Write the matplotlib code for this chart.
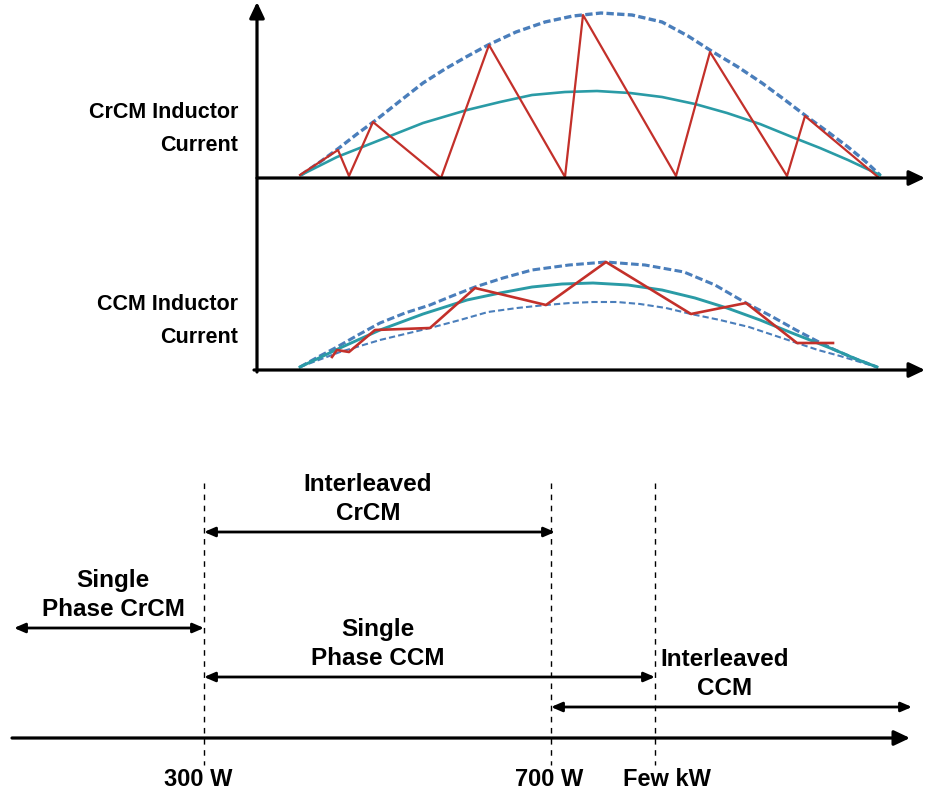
import matplotlib.pyplot as plt

# ---- diagram data (drawing units = picture pixels, y grows downward) ----
# top panel: CrCM inductor current
crcm_env_x = [301, 320, 339, 357, 376, 400, 423, 445, 466, 488, 516, 545, 573, 601,
              632, 662, 688, 713, 738, 762, 785, 806, 828, 848, 865, 880]
crcm_env_y = [175, 162, 148, 134, 120, 101, 83, 69, 57, 45, 32, 22, 16, 13,
              15, 22, 36, 52, 67, 83, 100, 116, 132, 147, 161, 175]
crcm_avg_x = [301, 337, 380, 423, 467, 500, 532, 565, 597, 630, 662, 695, 727, 760,
              792, 820, 848, 865, 880]
crcm_avg_y = [175, 157, 140, 123, 110, 102, 95, 92, 91, 93, 97, 104, 113, 124,
              137, 148, 160, 168, 175]
crcm_ripple_x = [300, 338, 349, 373, 441, 489, 565, 583, 676, 710, 787, 805, 878]
crcm_ripple_y = [175, 150, 176, 122, 178, 45, 177, 15, 176, 52, 176, 116, 177]

# middle panel: CCM inductor current
ccm_hi_x = [300, 318, 337, 358, 380, 405, 430, 452, 475, 503, 532, 569, 606, 645,
            684, 715, 746, 771, 796, 815, 835, 856, 877]
ccm_hi_y = [367, 357, 347, 335, 323, 313, 305, 296, 287, 278, 270, 265, 262, 265,
            272, 285, 303, 316, 330, 340, 350, 359, 367]
ccm_avg_x = [300, 340, 380, 423, 467, 500, 532, 562, 593, 628, 662, 695, 727, 760,
             792, 815, 835, 856, 877]
ccm_avg_y = [367, 348, 330, 314, 300, 293, 287, 284, 283, 285, 290, 298, 308, 320,
             333, 342, 350, 359, 367]
ccm_lo_x = [300, 340, 380, 405, 430, 460, 488, 517, 546, 570, 593, 617, 640, 666,
            691, 720, 749, 773, 797, 818, 840, 860, 877]
ccm_lo_y = [367, 352, 340, 334, 328, 320, 312, 308, 305, 303, 302, 302, 304, 308,
            314, 320, 327, 335, 343, 350, 356, 362, 367]
ccm_ripple_x = [332, 337, 349, 375, 430, 475, 546, 606, 691, 746, 797, 833]
ccm_ripple_y = [357, 350, 352, 330, 328, 288, 305, 262, 314, 303, 343, 343]

# bottom: power ranges
power_marks = [204, 551, 655]
power_labels = ['300 W', '700 W', 'Few kW']
power_label_x = [198, 549, 667]
range_start = [204, 14, 204, 551]
range_end = [555, 204, 655, 912]
range_level = [532, 628, 677, 707]
range_text = ['Interleaved\nCrCM', 'Single\nPhase CrCM', 'Single\nPhase CCM', 'Interleaved\nCCM']
range_text_x = [368, 113, 378, 725]

BLUE = '#4A7EBB'
TEAL = '#2A9BA6'
RED = '#C3302A'

plt.rcParams['font.family'] = ['Liberation Sans', 'DejaVu Sans']

fig = plt.figure(figsize=(9.27, 7.95), dpi=100)
ax = fig.add_axes([0, 0, 1, 1])
ax.set_xlim(0, 927)
ax.set_ylim(795, 0)
ax.axis('off')


def axis_arrow(x0, y0, x1, y1, lw=2.3):
    ax.annotate('', xy=(x1, y1), xytext=(x0, y0),
                arrowprops=dict(arrowstyle='-|>,head_length=0.95,head_width=0.45',
                                color='black', lw=lw, shrinkA=0, shrinkB=0))


# axes of the two waveform panels
axis_arrow(257, 372, 257, 2)
axis_arrow(257, 178, 925, 178)
axis_arrow(254, 370, 925, 370)

ax.plot(crcm_env_x, crcm_env_y, color=BLUE, lw=2.4, ls=(0, (2.2, 1.0)))
ax.plot(crcm_avg_x, crcm_avg_y, color=TEAL, lw=1.9)
ax.plot(crcm_ripple_x, crcm_ripple_y, color=RED, lw=1.6)

ax.plot(ccm_hi_x, ccm_hi_y, color=BLUE, lw=2.2, ls=(0, (2.5, 1.1)))
ax.plot(ccm_lo_x, ccm_lo_y, color=BLUE, lw=1.5, ls=(0, (3, 1.5)))
ax.plot(ccm_avg_x, ccm_avg_y, color=TEAL, lw=2.1)
ax.plot(ccm_ripple_x, ccm_ripple_y, color=RED, lw=1.9)

ax.text(238, 129, 'CrCM Inductor\nCurrent', ha='right', va='center',
        fontsize=15.5, fontweight='bold', linespacing=1.7)
ax.text(238, 321, 'CCM Inductor\nCurrent', ha='right', va='center',
        fontsize=15.5, fontweight='bold', linespacing=1.7)

# power axis
axis_arrow(12, 738, 910, 738)
for x in power_marks:
    ax.plot([x, x], [483, 765], color='black', lw=1, ls=(0, (4, 4)))
for x, lab in zip(power_label_x, power_labels):
    ax.text(x, 779, lab, ha='center', va='center', fontsize=17, fontweight='bold')

for x0, x1, y, txt, tx in zip(range_start, range_end, range_level, range_text, range_text_x):
    ax.annotate('', xy=(x1, y), xytext=(x0, y),
                arrowprops=dict(arrowstyle='<|-|>,head_length=0.65,head_width=0.28',
                                color='black', lw=2, shrinkA=0, shrinkB=0))
    ax.text(tx, y - 33, txt, ha='center', va='center', fontsize=17.5,
            fontweight='bold', linespacing=1.36)

fig.savefig('out.png', dpi=100)
